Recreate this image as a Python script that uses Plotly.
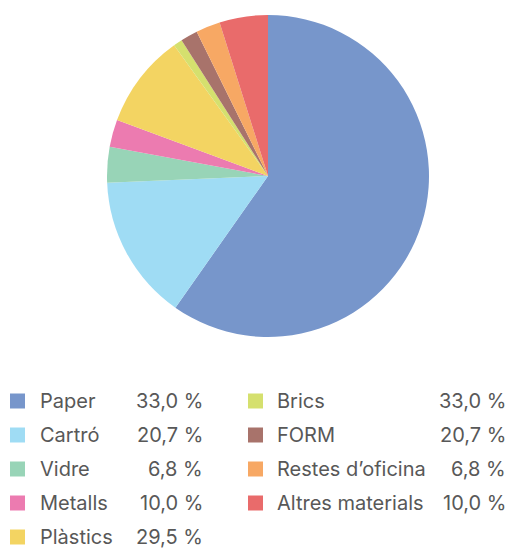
import plotly.graph_objects as go

# slice shares (percent of the circle)
materials = ["Paper", "Cartró", "Vidre", "Metalls", "Plàstics",
             "Brics", "FORM", "Restes d’oficina", "Altres materials"]
shares = [59.75, 14.58, 3.56, 2.75, 9.44, 0.89, 1.72, 2.44, 4.86]
# labels printed in the legend (as shown in the source, not the slice sizes)
legend_values = ["33,0 %", "20,7 %", "6,8 %", "10,0 %", "29,5 %",
                 "33,0 %", "20,7 %", "6,8 %", "10,0 %"]
colors = ["#7796cb", "#9fdcf4", "#98d4b7", "#ec7bb0", "#f3d462",
          "#d5e06e", "#a8736b", "#f7a864", "#e96b6b"]

W, H = 510, 548
FONT = "Inter, Roboto, sans-serif"
TEXT = "#585858"

fig = go.Figure(go.Pie(
    labels=materials,
    values=shares,
    sort=False,
    direction="clockwise",
    rotation=0,
    marker=dict(colors=colors, line=dict(width=0)),
    textinfo="none",
    hoverinfo="label",
    showlegend=False,
    domain=dict(x=[107 / W, 429 / W], y=[(H - 337) / H, (H - 15) / H]),
))

# custom two-column legend
shapes, annotations = [], []
row_y = [401, 435, 469, 503, 537]
columns = [(10, 38, 205), (248, 275, 508)]
for i, (name, val, col) in enumerate(zip(materials, legend_values, colors)):
    c = 0 if i < 5 else 1
    r = i if i < 5 else i - 5
    sq_x, txt_x, val_x = columns[c]
    y = row_y[r]
    shapes.append(dict(
        type="rect", xref="paper", yref="paper",
        x0=sq_x / W, x1=(sq_x + 15) / W,
        y0=(H - y - 7.5) / H, y1=(H - y + 7.5) / H,
        fillcolor=col, line=dict(width=0),
    ))
    annotations.append(dict(
        x=txt_x / W, y=(H - y) / H, xref="paper", yref="paper",
        text=name, showarrow=False, xanchor="left", yanchor="middle",
        font=dict(family=FONT, size=20, color=TEXT),
    ))
    annotations.append(dict(
        x=val_x / W, y=(H - y) / H, xref="paper", yref="paper",
        text=val, showarrow=False, xanchor="right", yanchor="middle",
        font=dict(family=FONT, size=20, color=TEXT),
    ))

fig.update_layout(
    width=W, height=H,
    margin=dict(t=0, b=0, l=0, r=0),
    paper_bgcolor="white",
    plot_bgcolor="white",
    shapes=shapes,
    annotations=annotations,
)

# drop the default page margin so the figure sits at the window's corner
fig.write_html("out.html", config=dict(displayModeBar=False),
               post_script="document.body.style.margin='0';")
